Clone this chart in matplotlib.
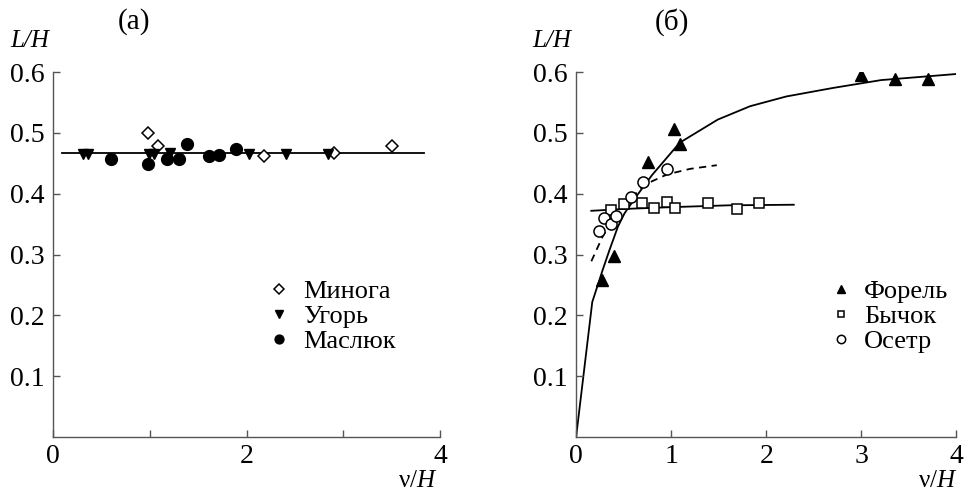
import numpy as np
import matplotlib
import matplotlib.pyplot as plt

matplotlib.rcParams['font.family'] = 'serif'
matplotlib.rcParams['font.serif'] = ['Liberation Serif', 'DejaVu Serif']
matplotlib.rcParams['font.size'] = 15
matplotlib.rcParams['mathtext.fontset'] = 'custom'
matplotlib.rcParams['mathtext.it'] = 'Liberation Serif:italic'
matplotlib.rcParams['mathtext.rm'] = 'Liberation Serif'

# (a) lamprey, eel, sea scorpion
minoga_x = [0.98, 1.08, 2.18, 2.90, 3.50]
minoga_y = [0.500, 0.479, 0.462, 0.467, 0.479]
ugor_x = [0.31, 0.36, 0.99, 1.04, 1.21, 2.03, 2.41, 2.84]
ugor_y = [0.466, 0.466, 0.466, 0.466, 0.467, 0.466, 0.466, 0.466]
maslyuk_x = [0.60, 0.98, 1.18, 1.30, 1.38, 1.61, 1.71, 1.89]
maslyuk_y = [0.457, 0.449, 0.457, 0.457, 0.482, 0.462, 0.464, 0.473]
fit_a_x = [0.09, 3.83]
fit_a_y = [0.467, 0.467]

# (б) trout, goby, sturgeon
forel_x = [0.27, 0.40, 0.76, 1.03, 1.09, 3.00, 3.35, 3.70]
forel_y = [0.258, 0.298, 0.453, 0.507, 0.482, 0.595, 0.588, 0.588]
bychok_x = [0.37, 0.50, 0.69, 0.82, 0.96, 1.04, 1.39, 1.69, 1.92]
bychok_y = [0.373, 0.384, 0.385, 0.376, 0.387, 0.376, 0.385, 0.375, 0.385]
osetr_x = [0.24, 0.29, 0.37, 0.42, 0.58, 0.70, 0.96]
osetr_y = [0.338, 0.360, 0.350, 0.364, 0.395, 0.419, 0.440]

forel_fit_x = [0, 0.17, 0.28, 0.35, 0.44, 0.51, 0.63, 0.80, 1.09, 1.49,
               1.83, 2.21, 2.70, 3.21, 4.0]
forel_fit_y = [0, 0.222, 0.275, 0.307, 0.346, 0.368, 0.395, 0.431, 0.484,
               0.522, 0.544, 0.560, 0.574, 0.587, 0.597]
bychok_fit_x = [0.16, 0.5, 1.0, 1.6, 2.29]
bychok_fit_y = [0.372, 0.375, 0.378, 0.381, 0.382]
osetr_fit_x = [0.16, 0.28, 0.42, 0.58, 0.72, 0.96, 1.2, 1.48]
osetr_fit_y = [0.289, 0.330, 0.365, 0.393, 0.415, 0.432, 0.441, 0.447]

fig = plt.figure(figsize=(9.65, 4.91), dpi=100)
ax1 = fig.add_axes([0.055, 0.110, 0.401, 0.743])
ax2 = fig.add_axes([0.597, 0.110, 0.394, 0.743])

for ax in (ax1, ax2):
    ax.set_xlim(0, 4)
    ax.set_ylim(0, 0.6)
    for s in ('top', 'right'):
        ax.spines[s].set_visible(False)
    for s in ('left', 'bottom'):
        ax.spines[s].set_color('#555555')
        ax.spines[s].set_linewidth(1.0)
    ax.set_yticks([0.1, 0.2, 0.3, 0.4, 0.5, 0.6])
    ax.set_yticklabels(['0.1', '0.2', '0.3', '0.4', '0.5', '0.6'])
    ax.tick_params(direction='in', length=5, width=1, color='#555555')
    ax.tick_params(axis='x', pad=5)
    ax.tick_params(axis='y', pad=6)
    ax.set_facecolor('none')

ax1.set_xticks([0, 1, 2, 3, 4])
ax1.set_xticklabels(['0', '', '2', '', '4'])
ax2.set_xticks([0, 1, 2, 3, 4])
ax2.set_xticklabels(['0', '1', '2', '3', '4'])

lw = 1.3
# panel (a)
ax1.plot(fit_a_x, fit_a_y, 'k-', lw=lw, zorder=1)
ax1.plot(minoga_x, minoga_y, 'D', ms=6.5, mfc='white', mec='k', mew=1.1,
         ls='none', label='Минога', zorder=3)
ax1.plot(ugor_x, ugor_y, 'v', ms=7.5, color='k', ls='none', label='Угорь',
         zorder=3)
ax1.plot(maslyuk_x, maslyuk_y, 'o', ms=8.5, color='k', ls='none',
         label='Маслюк', zorder=3)

# panel (б)
ax2.plot(forel_fit_x, forel_fit_y, 'k-', lw=lw, zorder=1)
ax2.plot(bychok_fit_x, bychok_fit_y, 'k-', lw=lw, zorder=1)
ax2.plot(osetr_fit_x, osetr_fit_y, 'k--', lw=lw, dashes=(4, 3), zorder=1)
ax2.plot(forel_x, forel_y, '^', ms=8, color='k', ls='none', label='Форель',
         zorder=3)
ax2.plot(bychok_x, bychok_y, 's', ms=6.5, mfc='white', mec='k', mew=1.1,
         ls='none', label='Бычок', zorder=3)
ax2.plot(osetr_x, osetr_y, 'o', ms=8, mfc='white', mec='k', mew=1.1,
         ls='none', label='Осетр', zorder=4)

leg_kw = dict(frameon=False, markerscale=0.75, handlelength=0.8,
              handletextpad=0.5, labelspacing=0.05, borderaxespad=0,
              fontsize=19)
ax1.legend(loc='upper left', bbox_to_anchor=(0.53, 0.46), **leg_kw)
ax2.legend(loc='upper left', bbox_to_anchor=(0.64, 0.46), **leg_kw)

# panel titles and axis names
fig.text(134 / 965, 1 - 22 / 491, '(a)', ha='center', va='center', fontsize=21)
fig.text(672 / 965, 1 - 22 / 491, '(б)', ha='center', va='center', fontsize=21)
fig.text(30 / 965, 1 - 41 / 491, 'L/H', ha='center', va='center',
         fontsize=18, style='italic')
fig.text(552 / 965, 1 - 41 / 491, 'L/H', ha='center', va='center',
         fontsize=18, style='italic')
fig.text(418 / 965, 1 - 481 / 491, 'ν/$H$', ha='center', va='center',
         fontsize=18)
fig.text(938 / 965, 1 - 481 / 491, 'ν/$H$', ha='center', va='center',
         fontsize=18)

for ax in (ax1, ax2):
    for lab in ax.get_xticklabels() + ax.get_yticklabels():
        lab.set_fontsize(20)

fig.savefig('out.png', dpi=100)
